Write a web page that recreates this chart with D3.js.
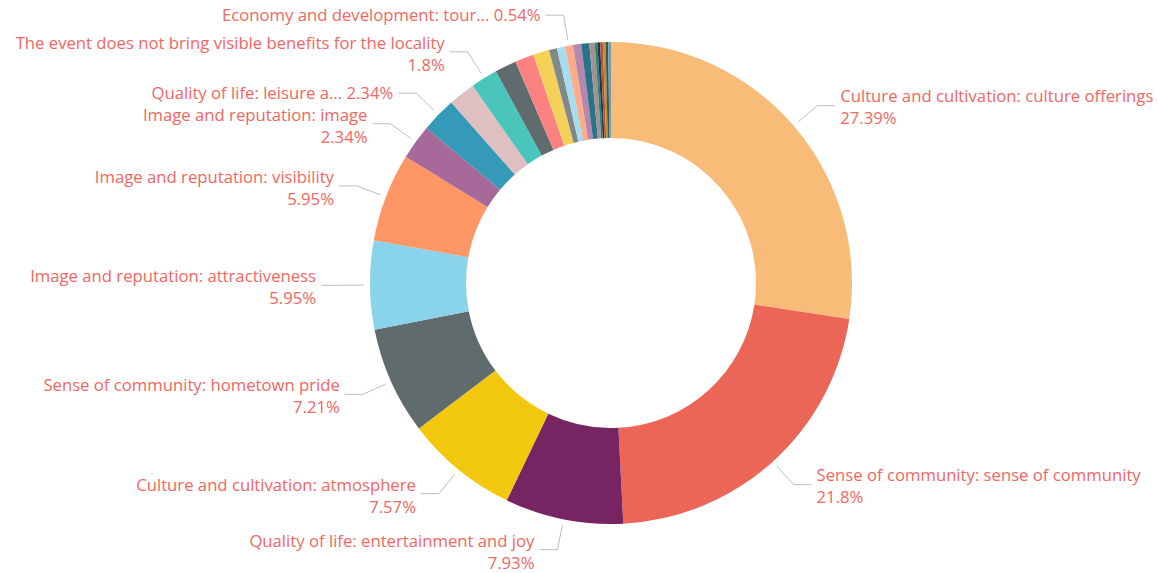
<!DOCTYPE html>
<html>
<head>
<meta charset="utf-8">
<script src="https://cdn.jsdelivr.net/npm/d3@7"></script>
<style>
  html, body { margin: 0; padding: 0; background: #fff; }
  text { font-family: "Segoe UI", "Open Sans", sans-serif; }
</style>
</head>
<body>
<script>
const width = 1158;
const height = 573;

// slice names as shown on the labels (null = no label drawn)
const categories = [
  'Culture and cultivation: culture offerings',
  'Sense of community: sense of community',
  'Quality of life: entertainment and joy',
  'Culture and cultivation: atmosphere',
  'Sense of community: hometown pride',
  'Image and reputation: attractiveness',
  'Image and reputation: visibility',
  'Image and reputation: image',
  'Quality of life: leisure a...',
  null,
  'The event does not bring visible benefits for the locality',
  null, null, null, null, null,
  'Economy and development: tour...',
  null, null, null, null, null, null, null, null, null
];

const counts = [152, 121, 44, 42, 40, 33, 33, 13, 13, 10, 10, 8, 7, 6, 3, 3, 3, 3, 3, 2, 1, 1, 1, 1, 1, 1];

const colors = [
  '#F8BC78', '#EC6658', '#762462', '#F2C80F', '#5F6B6D', '#8AD4EB', '#FE9666',
  '#A66999', '#3599B8', '#DFBFBF', '#4AC5BB', '#5F6B6D', '#FB8281', '#F4D25A',
  '#7F898A', '#A4DDEE', '#FDAB89', '#B687AC', '#28738A', '#A78F8F', '#168980',
  '#293537', '#BB4A4A', '#B59525', '#475052', '#6A9FB0'
];

const cx = 611;
const cy = 283;
const outerR = 241;
const innerR = 145;
const labelColor = '#F2665F';

const total = d3.sum(counts);
const pct = v => +(v / total * 100).toFixed(2) + '%';

const data = counts.map((c, i) => ({name: categories[i], value: c, color: colors[i]}));

const svg = d3.select('body')
  .append('svg')
  .attr('width', width)
  .attr('height', height);

const g = svg.append('g')
  .attr('transform', `translate(${cx}, ${cy})`);

const pie = d3.pie()
  .sort(null)
  .value(d => d.value);

const arc = d3.arc()
  .innerRadius(innerR)
  .outerRadius(outerR);

const arcs = pie(data);

g.selectAll('path.slice')
  .data(arcs)
  .enter()
  .append('path')
  .attr('class', 'slice')
  .attr('d', arc)
  .attr('fill', d => d.data.color);

// labels with leader lines
const labelled = arcs.filter(d => d.data.name);

const point = (a, r) => [Math.sin(a) * r, -Math.cos(a) * r];

labelled.forEach(d => {
  const mid = (d.startAngle + d.endAngle) / 2;
  const right = Math.sin(mid) > 0;
  const p0 = point(mid, outerR + 6);
  const p1 = point(mid, outerR + 31);
  const dir = right ? 1 : -1;
  const p2 = [p1[0] + dir * 18, p1[1]];

  g.append('polyline')
    .attr('points', [p0, p1, p2].map(p => p.join(',')).join(' '))
    .attr('fill', 'none')
    .attr('stroke', '#BDBDBD')
    .attr('stroke-width', 1);

  const tx = p2[0] + dir * 5;
  const anchor = right ? 'start' : 'end';
  const txt = g.append('text')
    .attr('x', tx)
    .attr('text-anchor', anchor)
    .attr('fill', labelColor)
    .style('font-size', '16.7px');

  const name = d.data.name;
  if (name.endsWith('...')) {
    txt.attr('y', p1[1])
      .attr('dy', '0.35em')
      .text(name + ' ' + pct(d.data.value));
  } else {
    txt.append('tspan')
      .attr('x', tx)
      .attr('y', p1[1] - 9)
      .attr('dy', '0.35em')
      .text(name);
    txt.append('tspan')
      .attr('x', tx)
      .attr('y', p1[1] + 13)
      .attr('dy', '0.35em')
      .text(pct(d.data.value));
  }
});
</script>
</body>
</html>
